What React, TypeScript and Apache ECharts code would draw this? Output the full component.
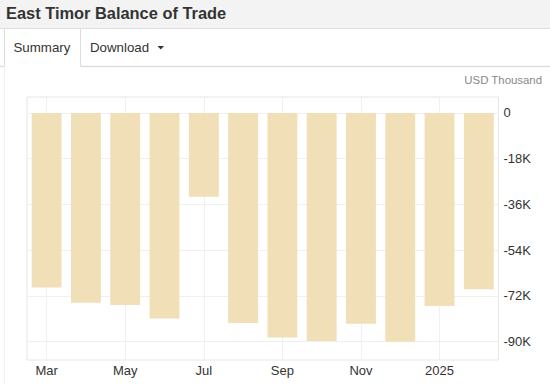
import { useEffect, useRef } from 'react';
import * as echarts from 'echarts';

const months = ['2024-03', '2024-04', '2024-05', '2024-06', '2024-07', '2024-08', '2024-09', '2024-10', '2024-11', '2024-12', '2025-01', '2025-02'];
const tickLabels = ['Mar', '', 'May', '', 'Jul', '', 'Sep', '', 'Nov', '', '2025', ''];
const values = [-68700, -74700, -75600, -81000, -33000, -82700, -88400, -89800, -83000, -90100, -76000, -69400];
const yTicks = [0, -18000, -36000, -54000, -72000, -90000];
const yTickLabels = ['0', '-18K', '-36K', '-54K', '-72K', '-90K'];

const FONT = '"Liberation Sans", Arial, Helvetica, sans-serif';

export default function App() {
  const ref = useRef<HTMLDivElement>(null);
  useEffect(() => {
    if (!ref.current) return;
    const chart = echarts.init(ref.current, undefined, { renderer: 'svg' });
    const xTickIdx = tickLabels.map((l, i) => (l ? i : -1)).filter((i) => i >= 0);
    const border = '#dedede';
    chart.setOption({
      animation: false,
      backgroundColor: '#ffffff',
      textStyle: { fontFamily: FONT },
      grid: {
        left: 27,
        right: 51.5,
        top: 97,
        bottom: 24,
        show: true,
        borderColor: '#e6e6e6',
        borderWidth: 1,
        backgroundColor: 'transparent',
      },
      xAxis: {
        type: 'value',
        min: -0.5,
        max: 11.5,
        axisLine: { show: false },
        axisTick: { show: false, customValues: xTickIdx },
        axisLabel: {
          customValues: xTickIdx,
          formatter: (v: number) => tickLabels[Math.round(v)] || '',
          color: '#333',
          fontSize: 13,
          fontFamily: FONT,
          margin: 4,
        },
        splitLine: { show: true, lineStyle: { color: '#f0f0f0', width: 1 } },
      },
      yAxis: {
        type: 'value',
        position: 'right',
        min: -97300,
        max: 6300,
        axisLine: { show: false },
        axisTick: { show: false, customValues: yTicks },
        axisLabel: {
          customValues: yTicks,
          formatter: (v: number) => yTickLabels[yTicks.indexOf(v)] ?? '',
          color: '#333',
          fontSize: 13,
          fontFamily: FONT,
          margin: 5,
        },
        splitLine: { show: true, lineStyle: { color: '#f0f0f0', width: 1 } },
      },
      series: [
        {
          type: 'bar',
          name: 'Balance of Trade',
          data: values.map((v, i) => [i, v]),
          barWidth: '76%',
          itemStyle: { color: '#f0dfb7' },
          z: 2,
        },
      ],
      graphic: [
        { type: 'rect', shape: { x: 0, y: 0, width: 550, height: 28 }, style: { fill: '#f3f3f3' }, z: 0 },
        { type: 'line', shape: { x1: 0, y1: 28.5, x2: 550, y2: 28.5 }, style: { stroke: border, lineWidth: 1 } },
        { type: 'line', shape: { x1: 4.5, y1: 28.5, x2: 4.5, y2: 66.5 }, style: { stroke: border, lineWidth: 1 } },
        { type: 'line', shape: { x1: 80.5, y1: 28.5, x2: 80.5, y2: 66.5 }, style: { stroke: border, lineWidth: 1 } },
        { type: 'line', shape: { x1: 80.5, y1: 66.5, x2: 550, y2: 66.5 }, style: { stroke: border, lineWidth: 1.5 } },
        { type: 'line', shape: { x1: 0, y1: 66.5, x2: 4.5, y2: 66.5 }, style: { stroke: border, lineWidth: 1.5 } },
        { type: 'line', shape: { x1: 4.5, y1: 66.5, x2: 4.5, y2: 384 }, style: { stroke: '#f2f2f2', lineWidth: 1 } },
        {
          type: 'text',
          style: { text: 'East Timor Balance of Trade', x: 6, y: 12.5, verticalAlign: 'middle', fill: '#333', font: `bold 16.4px ${FONT}` },
        },
        {
          type: 'text',
          style: { text: 'Summary', x: 13.5, y: 47.5, verticalAlign: 'middle', fill: '#333', font: `13.3px ${FONT}` },
        },
        {
          type: 'text',
          style: { text: 'Download', x: 90, y: 47.5, verticalAlign: 'middle', fill: '#333', font: `13.3px ${FONT}` },
        },
        {
          type: 'polygon',
          shape: { points: [[157.5, 46], [164, 46], [160.75, 49.5]] },
          style: { fill: '#333' },
        },
        {
          type: 'text',
          style: { text: 'USD Thousand', x: 542, y: 79.5, align: 'right', verticalAlign: 'middle', fill: '#888', font: `11.4px ${FONT}` },
        },
      ],
    });
    return () => chart.dispose();
  }, []);
  return <div ref={ref} style={{ position: 'absolute', left: 0, top: 0, width: 550, height: 384 }} />;
}
